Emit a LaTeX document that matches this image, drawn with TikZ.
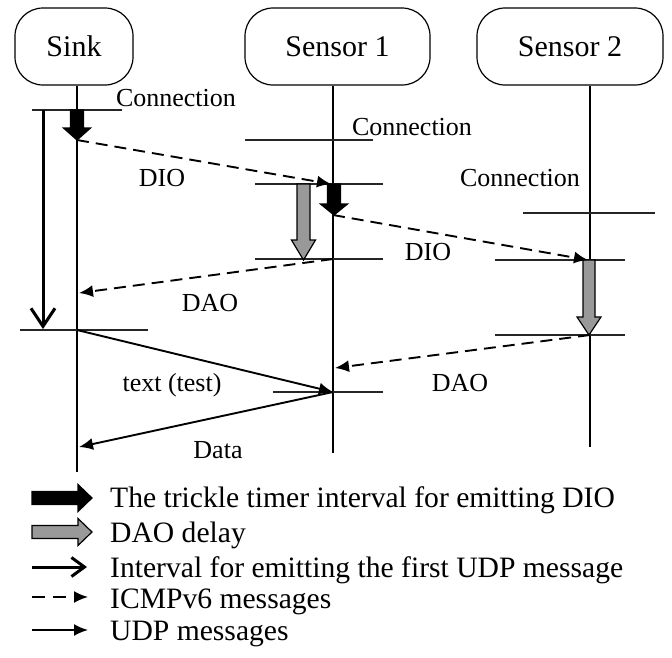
\documentclass[tikz,border=0pt]{standalone}
\usepackage{fontspec}
\setmainfont{Liberation Serif}
\usetikzlibrary{arrows.meta}

% vertical block arrow: x, top, head start, tip, half shaft, half head, fill
\newcommand\blockdown[7]{%
  \draw[blockedge, fill=#7] ({#1-#5},#2) -- ({#1+#5},#2) -- ({#1+#5},#3) -- ({#1+#6},#3)
    -- (#1,#4) -- ({#1-#6},#3) -- ({#1-#5},#3) -- cycle;}
% horizontal block arrow: y, left, head start, tip, fill
\newcommand\blockright[5]{%
  \draw[blockedge, fill=#5] (#2,{#1-6.5}) -- (#3,{#1-6.5}) -- (#3,{#1-13.5})
    -- (#4,#1) -- (#3,{#1+13.5}) -- (#3,{#1+6.5}) -- (#2,{#1+6.5}) -- cycle;}

\tikzset{
  actor/.style={draw, line width=1.2pt, rounded corners=28pt, minimum height=77pt,
    inner sep=0pt, font=\fontsize{30}{34}\selectfont},
  life/.style={line width=1.4pt},
  tick/.style={line width=1.4pt, draw=black!85},
  icmp/.style={line width=1.9pt, dash pattern=on 12pt off 7pt,
    -{Latex[length=14pt,width=12pt]}},
  udp/.style={line width=1.9pt, -{Latex[length=14pt,width=12pt]}},
  interval/.style={line width=3pt, -{Straight Barb[length=18pt,width=24pt]}},
  lbl/.style={font=\fontsize{26}{30}\selectfont, inner sep=0pt},
  legtxt/.style={font=\fontsize{29.6}{33}\selectfont, anchor=base west, inner sep=0pt},
  blockedge/.style={line width=1.2pt, line join=miter},
}

\begin{document}
\begin{tikzpicture}[x=1pt, y=-1pt]
\useasboundingbox (0,0) rectangle (672,657);

% participants
\node[actor, minimum width=118pt] (sink) at (74,46.5) {Sink};
\node[actor, minimum width=185pt] (sen1) at (337.5,46.5) {Sensor 1};
\node[actor, minimum width=186pt] (sen2) at (570,46.5) {Sensor 2};

% lifelines
\coordinate (sinkEnd) at (77,472);
\coordinate (sen1End) at (333,453);
\coordinate (sen2End) at (590,447);
\draw[life] (sink.south -| sinkEnd) -- (sinkEnd);
\draw[life] (sen1.south -| sen1End) -- (sen1End);
\draw[life] (sen2.south -| sen2End) -- (sen2End);

% time marks
\draw[tick] (32,110) -- (122,110);
\draw[tick] (20,330) -- (148,330);
\draw[tick] (245,140) -- (373,140);
\draw[tick] (255,184) -- (383,184);
\draw[tick] (255,259) -- (383,259);
\draw[tick] (273,392) -- (383,392);
\draw[tick] (523,213) -- (655,213);
\draw[tick] (495,260) -- (625,260);
\draw[tick] (495,335) -- (625,335);

% trickle timer intervals and DAO delays
\blockdown{77}{110}{128}{140}{6.5}{13.5}{black}
\blockdown{334}{184}{204}{215}{6.5}{13.5}{black}
\blockdown{303.5}{184}{240}{260}{6.5}{12}{black!40}
\blockdown{589}{260}{317}{335}{6}{12}{black!40}

% interval before the first UDP message
\coordinate (ivTop) at (43,110);
\coordinate (ivEnd) at (43,329);
\draw[interval] (ivTop) -- (ivEnd);

% message end points on the lifelines
\coordinate (dio1s) at (77,140);
\coordinate (dio1e) at (331,184);
\coordinate (dio2s) at (333,215);
\coordinate (dio2e) at (588,260);
\coordinate (dao1s) at (333,259);
\coordinate (dao1e) at (79,293);
\coordinate (dao2s) at (590,335);
\coordinate (dao2e) at (335,368);
\coordinate (udps) at (77,330);
\coordinate (udpr) at (333,392);
\coordinate (datae) at (79,447);

% messages
\draw[icmp] (dio1s) -- (dio1e);
\draw[icmp] (dio2s) -- (dio2e);
\draw[icmp] (dao1s) -- (dao1e);
\draw[icmp] (dao2s) -- (dao2e);
\draw[udp] (udps) -- (udpr);
\draw[udp] (udpr) -- (datae);

% labels
\node[lbl] (c1) at (176,98) {Connection};
\node[lbl] (c2) at (412,127) {Connection};
\node[lbl] (c3) at (520,178) {Connection};
\node[lbl] (lDIO1) at (162,178) {DIO};
\node[lbl] (lDIO2) at (428,252) {DIO};
\node[lbl] (lDAO1) at (210,303) {DAO};
\node[lbl] (lDAO2) at (460,383) {DAO};
\node[lbl] (lText) at (172,385) {text (test)};
\node[lbl] (lData) at (218,450) {Data};

% legend
\blockright{498}{32}{78}{92}{black}
\blockright{532}{32}{78}{92}{black!40}
\coordinate (k3a) at (32,567); \coordinate (k3b) at (87,567);
\coordinate (k4a) at (32,597); \coordinate (k4b) at (88,597);
\coordinate (k5a) at (32,630); \coordinate (k5b) at (88,630);
\draw[line width=3pt, -{Straight Barb[length=13pt,width=19pt]}] (k3a) -- (k3b);
\draw[icmp, dash pattern=on 13pt off 8pt] (k4a) -- (k4b);
\draw[udp] (k5a) -- (k5b);
\node[legtxt] (t1) at (110,507) {The trickle timer interval for emitting DIO};
\node[legtxt] (t2) at (110,542) {DAO delay};
\node[legtxt] (t3) at (110,577) {Interval for emitting the first UDP message};
\node[legtxt] (t4) at (110,608) {ICMPv6 messages};
\node[legtxt] (t5) at (110,640) {UDP messages};
\end{tikzpicture}
\end{document}
